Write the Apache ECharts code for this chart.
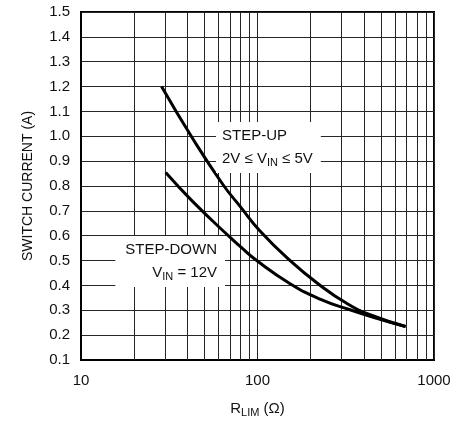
<!DOCTYPE html>
<html>
<head>
<meta charset="utf-8">
<script src="https://cdn.jsdelivr.net/npm/echarts@6/dist/echarts.min.js"></script>
<style>
html,body{margin:0;padding:0;background:#fff;}
#chart{width:467px;height:423px;}
</style>
</head>
<body>
<div id="chart"></div>
<script>
// Data
const rlimStepUp   = [28.6, 43, 63.8, 79.5, 103, 153, 226, 320, 434, 690];
const ampsStepUp   = [1.20, 0.99, 0.805, 0.719, 0.62, 0.50, 0.401, 0.328, 0.282, 0.235];
const rlimStepDown = [30.2, 43, 70, 80, 99, 153, 226, 334, 494, 690];
const ampsStepDown = [0.854, 0.737, 0.593, 0.556, 0.50, 0.407, 0.345, 0.302, 0.264, 0.235];
const xMinorGrid   = [20, 30, 40, 50, 60, 70, 80, 90, 200, 300, 400, 500, 600, 700, 800, 900];
const yTickMin = 0.1, yTickMax = 1.5, yTickStep = 0.1;
const xTickMin = 10, xTickMax = 1000;

const FONT = "'Liberation Sans Narrow', 'Liberation Sans', Arial, sans-serif";
const GRID_COLOR = '#262626';

const chart = echarts.init(document.getElementById('chart'), null, {renderer: 'canvas'});

function pairs(xs, ys) { return xs.map((x, i) => [x, ys[i]]); }

const option = {
  animation: false,
  backgroundColor: '#fff',
  textStyle: {fontFamily: FONT},
  grid: {left: 81, right: 33, top: 12, bottom: 59, show: true, borderColor: '#000', borderWidth: 2, backgroundColor: 'transparent'},
  xAxis: {
    type: 'log', logBase: 10, min: xTickMin, max: xTickMax,
    axisLine: {show: true, lineStyle: {color: '#000', width: 2}},
    axisTick: {show: false},
    axisLabel: {fontSize: 15, color: '#111', margin: 13, fontFamily: FONT, formatter: v => String(Math.round(v))},
    splitLine: {show: true, lineStyle: {color: GRID_COLOR, width: 1}},
    name: '{m|R}{s|LIM}{m| (Ω)}',
    nameLocation: 'middle', nameGap: 40,
    nameTextStyle: {rich: {
      m: {fontSize: 15, color: '#111', fontFamily: FONT},
      s: {fontSize: 11, color: '#111', fontFamily: FONT, padding: [7, 0, 0, 0]}
    }}
  },
  yAxis: {
    type: 'value', min: yTickMin, max: yTickMax, interval: yTickStep,
    axisLine: {show: true, lineStyle: {color: '#000', width: 2}},
    axisTick: {show: false},
    axisLabel: {fontSize: 15, color: '#111', margin: 11, fontFamily: FONT, formatter: v => v.toFixed(1)},
    splitLine: {show: true, lineStyle: {color: GRID_COLOR, width: 1}},
    name: 'SWITCH CURRENT (A)', nameLocation: 'middle', nameRotate: 90, nameGap: 46,
    nameTextStyle: {fontSize: 14, color: '#111', fontFamily: FONT}
  },
  series: [
    {
      type: 'line', name: 'STEP-UP', data: pairs(rlimStepUp, ampsStepUp),
      smooth: 0.5, symbol: 'none', z: 5,
      lineStyle: {color: '#000', width: 3},
      markLine: {
        silent: true, symbol: ['none', 'none'], label: {show: false}, animation: false,
        lineStyle: {type: 'solid', color: GRID_COLOR, width: 1},
        emphasis: {disabled: true},
        data: xMinorGrid.map(v => ({xAxis: v}))
      }
    },
    {
      type: 'line', name: 'STEP-DOWN', data: pairs(rlimStepDown, ampsStepDown),
      smooth: 0.5, symbol: 'none', z: 5,
      lineStyle: {color: '#000', width: 3}
    }
  ],
  graphic: [
    {
      type: 'text', x: 216, y: 122, z: 100,
      style: {
        text: '{a|STEP-UP}\n{a|2V ≤ V}{s|IN}{a| ≤ 5V}',
        backgroundColor: '#fff', padding: [2, 8, 3, 6],
        rich: {
          a: {fontSize: 15, fill: '#111', fontFamily: FONT, lineHeight: 23},
          s: {fontSize: 11, fill: '#111', fontFamily: FONT, lineHeight: 23, padding: [9, 0, 0, 0]}
        }
      }
    },
    {
      type: 'text', x: 225, y: 236, z: 100,
      style: {
        text: '{a|STEP-DOWN}\n{a|V}{s|IN}{a| = 12V}',
        align: 'right',
        backgroundColor: '#fff', padding: [2, 8, 3, 10],
        rich: {
          a: {fontSize: 15, fill: '#111', fontFamily: FONT, lineHeight: 23, align: 'right'},
          s: {fontSize: 11, fill: '#111', fontFamily: FONT, lineHeight: 23, padding: [9, 0, 0, 0], align: 'right'}
        }
      }
    }
  ]
};
chart.setOption(option);
</script>
</body>
</html>
